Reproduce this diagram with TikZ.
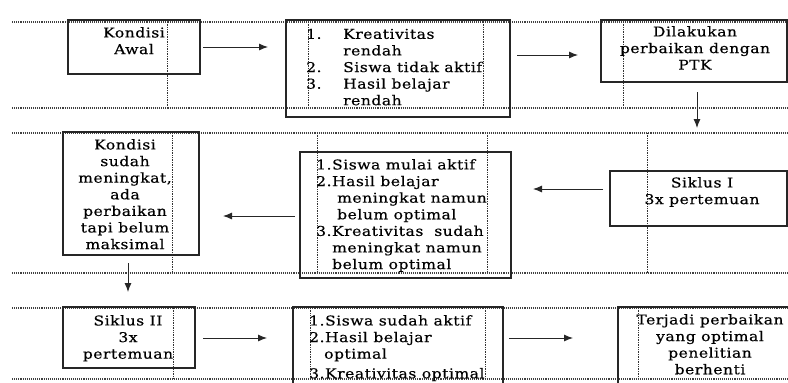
\documentclass[tikz,border=0pt]{standalone}
\usepackage{fontspec}
\setmainfont[FakeStretch=1.15,LetterSpace=4,FakeBold=0.4]{DejaVu Serif}
\usetikzlibrary{arrows.meta}
\begin{document}
\begin{tikzpicture}[x=1pt,y=-1pt,
  hdot/.style={densely dotted, line width=1.1pt, draw=black!75},
  vdot/.style={densely dotted, line width=0.7pt, draw=black!80},
  box/.style={draw=black!85, line width=1.1pt, rectangle, inner sep=0pt},
  arr/.style={-{Latex[length=9pt,width=7pt]}, line width=0.9pt, draw=black!85},
  txt/.style={font=\fontsize{13.5}{16.6}\selectfont, inner sep=0pt, text=black}]
\useasboundingbox (0,0) rectangle (788,383);
\clip (0,0) rectangle (788,383);
% grid lines
\foreach \y in {22,108,133,273,308,379} \draw[hdot] (12,\y) -- (788,\y);
\foreach \x in {167,308,483,623} \draw[vdot] (\x,22) -- (\x,108);
\foreach \x in {172,317,487,647} \draw[vdot] (\x,133) -- (\x,273);
\foreach \x in {173,310,485,638} \draw[vdot] (\x,308) -- (\x,379);
% boxes
\node[box, minimum width=132pt, minimum height=54pt] (bA) at (134,47) {};
\node[box, minimum width=224pt, minimum height=97pt] (bB) at (398,68.5) {};
\node[box, minimum width=186pt, minimum height=62pt] (bC) at (694,51) {};
\node[box, minimum width=136pt, minimum height=123pt] (bD) at (131,193.5) {};
\node[box, minimum width=211pt, minimum height=126pt] (bE) at (405.5,215) {};
\node[box, minimum width=177pt, minimum height=55pt] (bF) at (698.5,198.5) {};
\node[box, minimum width=132pt, minimum height=61pt] (bG) at (129,337.5) {};
\node[box, minimum width=210pt, minimum height=88pt] (bH) at (398,351) {};
\node[box, minimum width=182pt, minimum height=88pt] (bI) at (709,351) {};
% texts
\node[txt, align=center, anchor=north] (tA) at (134,27) {Kondisi\\Awal};
\node[txt, anchor=north west] (tB) at (306,27) {\begin{tabular}{@{}p{37pt}@{}l@{}}1. & Kreativitas\\ & rendah\\ 2. & Siswa tidak aktif\\ 3. & Hasil belajar\\ & rendah\end{tabular}};
\node[txt, align=center, anchor=north] (tC) at (695,26) {Dilakukan\\perbaikan dengan\\PTK};
\node[txt, align=center, anchor=north] (tD) at (125,139) {Kondisi\\sudah\\meningkat,\\ada\\perbaikan\\tapi belum\\maksimal};
\node[txt, align=left, anchor=north west] (tE) at (316,159) {1.Siswa mulai aktif\\2.Hasil belajar\\\hspace*{21pt}meningkat namun\\\hspace*{21pt}belum optimal\\3.Kreativitas\ \ sudah\\\hspace*{16pt}meningkat namun\\\hspace*{16pt}belum optimal};
\node[txt, align=center, anchor=north] (tF) at (702,177) {Siklus I\\3x pertemuan};
\node[txt, align=center, anchor=north] (tG) at (128,315) {Siklus II\\3x\\pertemuan};
\node[txt, align=left, anchor=north west] (tH) at (309,315) {1.Siswa sudah aktif\\2.Hasil belajar\\\hspace*{15pt}optimal\\[3pt]3.Kreativitas optimal};
\node[txt, align=center, anchor=north] (tI) at (710,314) {Terjadi perbaikan\\yang optimal\\penelitian\\berhenti};
% arrow ends
\coordinate (a1s) at (203,47);  \coordinate (a1e) at (268,47);
\coordinate (a2s) at (517,55);  \coordinate (a2e) at (578,55);
\coordinate (a3s) at (697,92);  \coordinate (a3e) at (697,128);
\coordinate (a4s) at (603,189); \coordinate (a4e) at (533,189);
\coordinate (a5s) at (295,216); \coordinate (a5e) at (223,216);
\coordinate (a6s) at (128,263); \coordinate (a6e) at (128,292);
\coordinate (a7s) at (203,338); \coordinate (a7e) at (267,338);
\coordinate (a8s) at (509,338); \coordinate (a8e) at (573,338);
\foreach \i in {1,...,8} \draw[arr] (a\i s) -- (a\i e);
\end{tikzpicture}
\end{document}
